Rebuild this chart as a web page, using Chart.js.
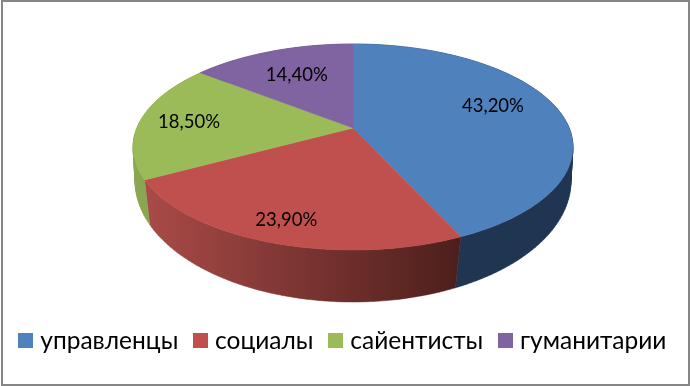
<!DOCTYPE html>
<html>
<head>
<meta charset="utf-8">
<style>
  html, body { margin: 0; padding: 0; background: #fff; }
  canvas { display: block; }
</style>
<script src="https://cdn.jsdelivr.net/npm/chart.js@4/dist/chart.umd.min.js"></script>
</head>
<body>
<canvas id="pieChart" width="690" height="386"></canvas>
<script>
const categories = ['управленцы', 'социалы', 'сайентисты', 'гуманитарии'];
const shares = [43.2, 23.9, 18.5, 14.4];

const topColors = ['#4f81bd', '#c0504d', '#9bbb59', '#8064a2'];
const sideColors = [
    ['#1f3552', '#1f3552'],
    ['#a84a47', '#4d1f1c'],
    ['#8aa650', '#8aa650'],
    ['#5a4673', '#5a4673']
];

// perspective of the tilted disc, fitted on the reference
const APEX_X = 353;
const APEX_Y = 128;
const TOP_FACE = { tilt: 0.1845, sx: 216.2, sy: 99.5, cy: APEX_Y };
const BOTTOM_FACE = { tilt: 0.14, sx: 215.8, sy: 118.6, cy: 164.1 };
const LABEL_FONT = '18.5px Lato, "Open Sans", sans-serif';
const labelRadius = [0.68, 0.83, 0.77, 0.66];
const labelLift = [-8, 0, 0, 0];

const project = (face, angle, r = 1) => {
    const x = r * Math.cos(angle);
    const y = r * Math.sin(angle);
    const w = 1 - face.tilt * y;
    return { x: APEX_X + face.sx * x / w, y: face.cy + face.sy * y / w };
};

const arcAngles = (arc) => {
    const steps = Math.max(8, Math.ceil((arc.endAngle - arc.startAngle) * 40));
    const out = [];
    for (let i = 0; i <= steps; i++) {
        out.push(arc.startAngle + (arc.endAngle - arc.startAngle) * i / steps);
    }
    return out;
};

const pie3d = {
    id: 'pie3d',
    beforeDraw(chart) {
        const { ctx } = chart;
        ctx.save();
        ctx.strokeStyle = '#868686';
        ctx.lineWidth = 2;
        ctx.strokeRect(2, 1, 687, 384);
        ctx.restore();
    },
    beforeDatasetsDraw(chart) {
        const { ctx } = chart;
        const arcs = chart.getDatasetMeta(0).data;
        ctx.save();

        // outer wall: one path per slice so the quads leave no seams,
        // the top face hides the back part
        arcs.forEach((arc, i) => {
            const angles = arcAngles(arc);
            const grad = ctx.createLinearGradient(149, 0, 458, 0);
            grad.addColorStop(0, sideColors[i][0]);
            grad.addColorStop(1, sideColors[i][1]);
            ctx.fillStyle = grad;
            ctx.strokeStyle = grad;
            ctx.lineWidth = 0.5;
            ctx.beginPath();
            for (let k = 0; k < angles.length - 1; k++) {
                const a = project(TOP_FACE, angles[k]);
                const b = project(TOP_FACE, angles[k + 1]);
                const c = project(BOTTOM_FACE, angles[k + 1]);
                const d = project(BOTTOM_FACE, angles[k]);
                const area = (b.x - a.x) * (d.y - a.y) - (b.y - a.y) * (d.x - a.x);
                const quad = area > 0 ? [a, b, c, d] : [d, c, b, a];
                ctx.moveTo(quad[0].x, quad[0].y);
                quad.slice(1).forEach((p) => ctx.lineTo(p.x, p.y));
                ctx.closePath();
            }
            ctx.fill();
            ctx.stroke();
        });

        arcs.forEach((arc, i) => {
            ctx.fillStyle = topColors[i];
            ctx.strokeStyle = topColors[i];
            ctx.lineWidth = 0.5;
            ctx.beginPath();
            ctx.moveTo(APEX_X, APEX_Y);
            arcAngles(arc).forEach((a) => {
                const p = project(TOP_FACE, a);
                ctx.lineTo(p.x, p.y);
            });
            ctx.closePath();
            ctx.fill();
            ctx.stroke();
        });

        ctx.fillStyle = '#000';
        ctx.font = LABEL_FONT;
        ctx.textAlign = 'center';
        ctx.textBaseline = 'middle';
        arcs.forEach((arc, i) => {
            const p = project(TOP_FACE, (arc.startAngle + arc.endAngle) / 2, labelRadius[i]);
            const text = shares[i].toFixed(2).replace('.', ',') + '%';
            ctx.fillText(text, p.x, p.y + labelLift[i]);
        });

        ctx.restore();
        return false;
    }
};

const legendBox = (color) => {
    const box = document.createElement('canvas');
    box.width = 15;
    box.height = 15;
    const c = box.getContext('2d');
    c.fillStyle = color;
    c.fillRect(0, 0, 15, 15);
    return box;
};
const legendBoxes = topColors.map(legendBox);

new Chart(document.getElementById('pieChart'), {
    type: 'pie',
    data: {
        labels: categories,
        datasets: [{ data: shares, backgroundColor: topColors, borderWidth: 0 }]
    },
    options: {
        responsive: false,
        animation: false,
        layout: { padding: { bottom: 23 } },
        plugins: {
            tooltip: { enabled: false },
            legend: {
                position: 'bottom',
                labels: {
                    usePointStyle: true,
                    boxWidth: 4.5,
                    padding: 20,
                    color: '#000',
                    font: { family: 'Lato, "Open Sans", sans-serif', size: 24.5 },
                    generateLabels: (chart) => Chart.overrides.pie.plugins.legend.labels
                        .generateLabels(chart)
                        .map((item, i) => ({ ...item, pointStyle: legendBoxes[i] }))
                }
            }
        }
    },
    plugins: [pie3d]
});
</script>
</body>
</html>
